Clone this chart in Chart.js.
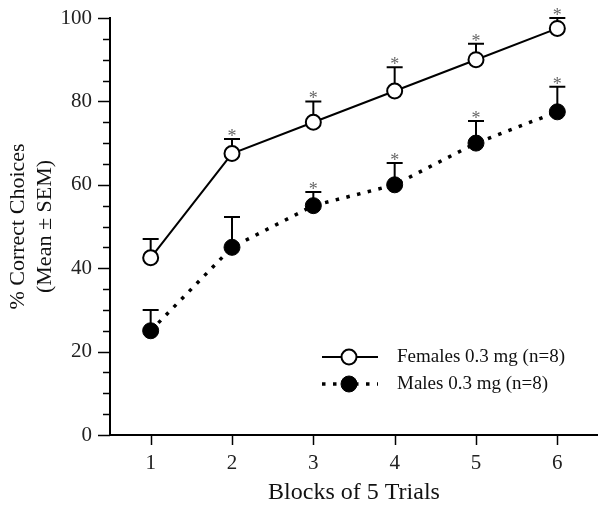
<!DOCTYPE html>
<html>
<head>
<meta charset="utf-8">
<script src="https://cdn.jsdelivr.net/npm/chart.js@4/dist/chart.umd.min.js"></script>
<style>
  html, body { margin: 0; padding: 0; background: #fff; }
  #wrap { width: 598px; height: 505px; }
</style>
</head>
<body>
<div id="wrap"><canvas id="chart" width="598" height="505"></canvas></div>
<script>
const blocks = [1, 2, 3, 4, 5, 6];
const femaleMean = [42.5, 67.5, 75, 82.5, 90, 97.5];
const femaleSem = [4.5, 3.5, 5, 5.7, 3.8, 2.5];
const femaleStar = [false, true, true, true, true, true];
const maleMean = [25, 45, 55, 60, 70, 77.5];
const maleSem = [5, 7.3, 3.3, 5.2, 5.3, 6];
const maleStar = [false, false, true, true, true, true];
const yTickLabels = [0, 20, 40, 60, 80, 100];
const legendLabels = ["Females 0.3 mg (n=8)", "Males 0.3 mg (n=8)"];

const serif = "'Liberation Serif', 'Times New Roman', serif";

function points(means) {
  return blocks.map((b, i) => ({ x: b, y: means[i] }));
}

// error bars (upward only) and significance stars
const errorBars = {
  id: "errorBars",
  beforeDatasetsDraw(chart) {
    const ctx = chart.ctx;
    const xs = chart.scales.x, ys = chart.scales.y;
    ctx.save();
    ctx.strokeStyle = "#000";
    ctx.lineWidth = 2;
    chart.data.datasets.forEach((ds) => {
      ds.sem.forEach((s, i) => {
        const px = xs.getPixelForValue(blocks[i]);
        const py = ys.getPixelForValue(ds.data[i].y);
        const top = ys.getPixelForValue(ds.data[i].y + s);
        ctx.beginPath();
        ctx.moveTo(px, py);
        ctx.lineTo(px, top);
        ctx.moveTo(px - 8, top);
        ctx.lineTo(px + 8, top);
        ctx.stroke();
      });
    });
    ctx.restore();
  },
  afterDatasetsDraw(chart) {
    const ctx = chart.ctx;
    const xs = chart.scales.x, ys = chart.scales.y;
    ctx.save();
    ctx.fillStyle = "#666";
    ctx.font = "18px " + serif;
    ctx.textAlign = "center";
    ctx.textBaseline = "alphabetic";
    chart.data.datasets.forEach((ds) => {
      ds.stars.forEach((on, i) => {
        if (!on) return;
        const px = xs.getPixelForValue(blocks[i]);
        const top = ys.getPixelForValue(ds.data[i].y + ds.sem[i]);
        ctx.fillText("*", px, top + 3);
      });
    });
    ctx.restore();
  }
};

// axis ticks: major every 20, minor every 5 on y; x ticks at each block
const axisTicks = {
  id: "axisTicks",
  afterDraw(chart) {
    const ctx = chart.ctx;
    const xs = chart.scales.x, ys = chart.scales.y;
    const left = chart.chartArea.left, bottom = chart.chartArea.bottom;
    ctx.save();
    ctx.strokeStyle = "#000";
    ctx.lineWidth = 1.5;
    for (let v = 0; v <= 100; v += 5) {
      const py = Math.round(ys.getPixelForValue(v)) + 0.5;
      const len = v % 20 === 0 ? 12 : 7;
      ctx.beginPath();
      ctx.moveTo(left - len, py);
      ctx.lineTo(left, py);
      ctx.stroke();
    }
    blocks.forEach((b) => {
      const px = Math.round(xs.getPixelForValue(b)) + 0.5;
      ctx.beginPath();
      ctx.moveTo(px, bottom);
      ctx.lineTo(px, bottom + 10);
      ctx.stroke();
    });
    ctx.restore();
  }
};

// legend inside the plot
const innerLegend = {
  id: "innerLegend",
  afterDraw(chart) {
    const ctx = chart.ctx;
    const x0 = 322, x1 = 378, xc = 349, tx = 397;
    const rows = [357, 384];
    ctx.save();
    chart.data.datasets.forEach((ds, i) => {
      const y = rows[i];
      ctx.strokeStyle = "#000";
      ctx.lineWidth = ds.borderWidth;
      ctx.setLineDash(ds.borderDash || []);
      ctx.beginPath();
      ctx.moveTo(x0, y);
      ctx.lineTo(x1, y);
      ctx.stroke();
      ctx.setLineDash([]);
      ctx.beginPath();
      ctx.arc(xc, y, ds.pointRadius, 0, Math.PI * 2);
      ctx.fillStyle = ds.pointBackgroundColor;
      ctx.fill();
      ctx.lineWidth = ds.pointBorderWidth;
      ctx.stroke();
      ctx.fillStyle = "#111";
      ctx.font = "19px " + serif;
      ctx.textAlign = "left";
      ctx.textBaseline = "middle";
      ctx.fillText(legendLabels[i], tx, y);
    });
    ctx.restore();
  }
};

new Chart(document.getElementById("chart"), {
  type: "line",
  data: {
    datasets: [
      {
        label: legendLabels[0],
        data: points(femaleMean),
        sem: femaleSem,
        stars: femaleStar,
        borderColor: "#000",
        borderWidth: 2,
        pointRadius: 7.5,
        pointBackgroundColor: "#fff",
        pointBorderColor: "#000",
        pointBorderWidth: 2,
        tension: 0
      },
      {
        label: legendLabels[1],
        data: points(maleMean),
        sem: maleSem,
        stars: maleStar,
        borderColor: "#000",
        borderWidth: 3.5,
        borderDash: [3.5, 7.5],
        pointRadius: 8,
        pointBackgroundColor: "#000",
        pointBorderColor: "#000",
        pointBorderWidth: 1,
        tension: 0
      }
    ]
  },
  options: {
    responsive: false,
    animation: false,
    layout: { autoPadding: false, padding: { top: 18, right: 0, left: 0, bottom: 0 } },
    plugins: { legend: { display: false }, tooltip: { enabled: false } },
    scales: {
      x: {
        type: "linear",
        min: 0.5,
        max: 6.5,
        afterBuildTicks(scale) {
          scale.ticks = blocks.map((b) => ({ value: b }));
        },
        afterFit(scale) {
          scale.height = 70;
          scale.paddingLeft = 0;
          scale.paddingRight = 0;
        },
        grid: { display: false, drawTicks: false },
        border: { display: true, color: "#000", width: 2 },
        ticks: {
          color: "#222",
          padding: 16,
          font: { family: serif, size: 21 }
        },
        title: {
          display: true,
          text: "Blocks of 5 Trials",
          color: "#111",
          padding: { top: 4, bottom: 0 },
          font: { family: serif, size: 24, lineHeight: 1.0 }
        }
      },
      y: {
        min: 0,
        max: 100,
        afterBuildTicks(scale) {
          scale.ticks = yTickLabels.map((v) => ({ value: v }));
        },
        afterFit(scale) {
          scale.width = 110;
          scale.paddingTop = 0;
          scale.paddingBottom = 0;
        },
        grid: { display: false, drawTicks: false },
        border: { display: true, color: "#000", width: 2 },
        ticks: {
          color: "#222",
          padding: 18,
          font: { family: serif, size: 21 }
        },
        title: {
          display: true,
          text: ["% Correct Choices", "(Mean ± SEM)"],
          color: "#111",
          padding: { top: 5, bottom: 0 },
          font: { family: serif, size: 22, lineHeight: 1.23 }
        }
      }
    }
  },
  plugins: [errorBars, axisTicks, innerLegend]
});
</script>
</body>
</html>
